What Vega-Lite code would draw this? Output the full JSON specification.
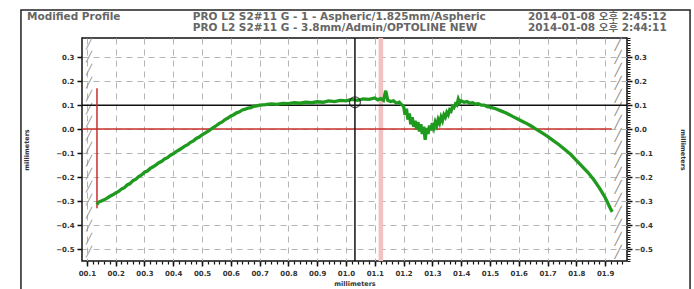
{
"$schema": "https://vega.github.io/schema/vega-lite/v6.json",
"width": 545, "height": 223,
"autosize": {"type": "none"},
"padding": {"left": 82, "top": 38, "right": 67, "bottom": 28},
"background": "white",
"config": {
  "view": {"stroke": "#111", "strokeWidth": 1.5},
  "axis": {"domain": false, "labelFont": "DejaVu Sans", "labelFontWeight": "bold", "labelFontSize": 7, "labelColor": "#333", "tickColor": "#111", "titleFont": "DejaVu Sans", "titleFontWeight": "bold", "titleFontSize": 6.5, "titleColor": "#333", "gridColor": "#b5b5b5", "gridDash": [6, 5], "gridWidth": 1}
},
"data": {"values": [{}]},
"datasets": {
  "profile": [
    {"x":0.135,"y":-0.315},{"x":0.14,"y":-0.305},{"x":0.15,"y":-0.3},{"x":0.16,"y":-0.295},{"x":0.17,"y":-0.288},{"x":0.18,"y":-0.28},{"x":0.19,"y":-0.274},{"x":0.2,"y":-0.266},{"x":0.21,"y":-0.26},{"x":0.22,"y":-0.25},{"x":0.23,"y":-0.244},{"x":0.24,"y":-0.233},{"x":0.25,"y":-0.227},{"x":0.26,"y":-0.215},{"x":0.27,"y":-0.209},{"x":0.28,"y":-0.198},{"x":0.29,"y":-0.191},{"x":0.3,"y":-0.18},{"x":0.31,"y":-0.175},{"x":0.32,"y":-0.164},{"x":0.33,"y":-0.157},{"x":0.34,"y":-0.149},{"x":0.35,"y":-0.14},{"x":0.36,"y":-0.134},{"x":0.37,"y":-0.124},{"x":0.38,"y":-0.119},{"x":0.39,"y":-0.109},{"x":0.4,"y":-0.103},{"x":0.41,"y":-0.094},{"x":0.42,"y":-0.087},{"x":0.43,"y":-0.079},{"x":0.44,"y":-0.071},{"x":0.45,"y":-0.065},{"x":0.46,"y":-0.055},{"x":0.47,"y":-0.049},{"x":0.48,"y":-0.039},{"x":0.49,"y":-0.033},{"x":0.5,"y":-0.024},{"x":0.51,"y":-0.017},{"x":0.52,"y":-0.009},{"x":0.53,"y":-0.001},{"x":0.54,"y":0.007},{"x":0.55,"y":0.015},{"x":0.56,"y":0.024},{"x":0.57,"y":0.03},{"x":0.58,"y":0.04},{"x":0.59,"y":0.046},{"x":0.6,"y":0.055},{"x":0.61,"y":0.06},{"x":0.62,"y":0.068},{"x":0.63,"y":0.072},{"x":0.64,"y":0.08},{"x":0.65,"y":0.083},{"x":0.66,"y":0.088},{"x":0.67,"y":0.09},{"x":0.68,"y":0.095},{"x":0.69,"y":0.097},{"x":0.7,"y":0.1},{"x":0.72,"y":0.102},{"x":0.74,"y":0.105},{"x":0.76,"y":0.103},{"x":0.78,"y":0.107},{"x":0.8,"y":0.106},{"x":0.82,"y":0.11},{"x":0.84,"y":0.108},{"x":0.86,"y":0.112},{"x":0.88,"y":0.11},{"x":0.9,"y":0.114},{"x":0.92,"y":0.112},{"x":0.94,"y":0.118},{"x":0.96,"y":0.115},{"x":0.98,"y":0.12},{"x":1.0,"y":0.118},{"x":1.02,"y":0.124},{"x":1.04,"y":0.12},{"x":1.06,"y":0.126},{"x":1.08,"y":0.124},{"x":1.1,"y":0.13},{"x":1.11,"y":0.122},{"x":1.12,"y":0.127},{"x":1.13,"y":0.12},{"x":1.138,"y":0.16},{"x":1.145,"y":0.12},{"x":1.155,"y":0.115},{"x":1.165,"y":0.118},{"x":1.175,"y":0.108},{"x":1.185,"y":0.112},
    {"x":1.19,"y":0.105},{"x":1.2,"y":0.095},{"x":1.205,"y":0.06},{"x":1.21,"y":0.085},{"x":1.215,"y":0.04},{"x":1.22,"y":0.065},{"x":1.225,"y":0.02},{"x":1.23,"y":0.05},{"x":1.235,"y":0.01},{"x":1.24,"y":0.035},{"x":1.245,"y":0.0},{"x":1.25,"y":0.03},{"x":1.255,"y":-0.01},{"x":1.26,"y":0.02},{"x":1.265,"y":-0.02},{"x":1.27,"y":0.01},{"x":1.275,"y":-0.045},{"x":1.28,"y":0.005},{"x":1.285,"y":-0.02},{"x":1.29,"y":0.015},{"x":1.295,"y":-0.005},{"x":1.3,"y":0.025},{"x":1.305,"y":0.005},{"x":1.31,"y":0.03},{"x":1.315,"y":0.015},{"x":1.32,"y":0.04},{"x":1.325,"y":0.025},{"x":1.33,"y":0.05},{"x":1.335,"y":0.035},{"x":1.34,"y":0.06},{"x":1.345,"y":0.05},{"x":1.35,"y":0.07},{"x":1.355,"y":0.06},{"x":1.36,"y":0.08},{"x":1.365,"y":0.075},{"x":1.37,"y":0.095},{"x":1.375,"y":0.09},{"x":1.38,"y":0.105},{"x":1.385,"y":0.1},{"x":1.39,"y":0.125},{"x":1.395,"y":0.11},{"x":1.4,"y":0.118},{"x":1.41,"y":0.112},{"x":1.42,"y":0.115},{"x":1.43,"y":0.108},{"x":1.44,"y":0.11},{"x":1.45,"y":0.104},{"x":1.46,"y":0.106},{"x":1.47,"y":0.1},{"x":1.48,"y":0.1},{"x":1.49,"y":0.094},{"x":1.5,"y":0.092},{"x":1.52,"y":0.085},{"x":1.54,"y":0.075},{"x":1.56,"y":0.065},{"x":1.58,"y":0.052},{"x":1.6,"y":0.04},{"x":1.62,"y":0.028},{"x":1.64,"y":0.015},{"x":1.66,"y":0.0},{"x":1.68,"y":-0.015},{"x":1.7,"y":-0.03},{"x":1.72,"y":-0.048},{"x":1.74,"y":-0.065},{"x":1.76,"y":-0.085},{"x":1.78,"y":-0.105},{"x":1.8,"y":-0.13},{"x":1.82,"y":-0.155},{"x":1.84,"y":-0.18},{"x":1.86,"y":-0.21},{"x":1.88,"y":-0.245},{"x":1.9,"y":-0.285},{"x":1.91,"y":-0.31},{"x":1.92,"y":-0.335},{"x":1.925,"y":-0.345}
  ]
},
"layer": [
  {
    "mark": {"type": "rect", "color": "#f2c2c2"},
    "encoding": {
      "x": {"datum": 1.113, "type": "quantitative", "scale": {"domain": [0.083, 1.976], "nice": false, "zero": false},
            "axis": {"orient": "bottom", "values": [0.1,0.12,0.14,0.16,0.18,0.2,0.22,0.24,0.26,0.28,0.3,0.32,0.34,0.36,0.38,0.4,0.42,0.44,0.46,0.48,0.5,0.52,0.54,0.56,0.58,0.6,0.62,0.64,0.66,0.68,0.7,0.72,0.74,0.76,0.78,0.8,0.82,0.84,0.86,0.88,0.9,0.92,0.94,0.96,0.98,1.0,1.02,1.04,1.06,1.08,1.1,1.12,1.14,1.16,1.18,1.2,1.22,1.24,1.26,1.28,1.3,1.32,1.34,1.36,1.38,1.4,1.42,1.44,1.46,1.48,1.5,1.52,1.54,1.56,1.58,1.6,1.62,1.64,1.66,1.68,1.7,1.72,1.74,1.76,1.78,1.8,1.82,1.84,1.86,1.88,1.9,1.92,1.94,1.96], "labels": false, "grid": false, "tickSize": 3, "tickWidth": 1.2, "title": null}},
      "x2": {"datum": 1.129}
    }
  },
  {
    "mark": {"type": "text", "align": "center", "baseline": "top", "font": "DejaVu Sans", "fontSize": 10, "color": "#8a8a8a", "lineHeight": 13},
    "encoding": {
      "x": {"datum": 0.107, "type": "quantitative", "scale": {"domain": [0.083, 1.976], "nice": false, "zero": false}, "axis": null},
      "y": {"datum": 0.375, "type": "quantitative", "scale": {"domain": [-0.55, 0.38], "nice": false, "zero": false}, "axis": null},
      "text": {"value": ["╱","╱","╱","╱","╱","╱","╱","╱","╱","╱","╱","╱","╱","╱","╱","╱","╱"]}
    }
  },
  {
    "mark": {"type": "text", "align": "center", "baseline": "top", "font": "DejaVu Sans", "fontSize": 12, "color": "#8a8a8a", "lineHeight": 13},
    "encoding": {
      "x": {"datum": 1.945, "type": "quantitative", "scale": {"domain": [0.083, 1.976], "nice": false, "zero": false}, "axis": null},
      "y": {"datum": 0.375, "type": "quantitative", "scale": {"domain": [-0.55, 0.38], "nice": false, "zero": false}, "axis": null},
      "text": {"value": ["╱","╱","╱","╱","╱","╱","╱","╱","╱","╱","╱","╱","╱","╱","╱","╱","╱"]}
    }
  },
  {
    "mark": {"type": "rule", "color": "#111", "strokeWidth": 1.5},
    "encoding": {
      "y": {"datum": 0.1, "type": "quantitative", "scale": {"domain": [-0.55, 0.38], "nice": false, "zero": false},
            "axis": {"orient": "right", "values": [-0.55,-0.54,-0.53,-0.52,-0.51,-0.5,-0.49,-0.48,-0.47,-0.46,-0.45,-0.44,-0.43,-0.42,-0.41,-0.4,-0.39,-0.38,-0.37,-0.36,-0.35,-0.34,-0.33,-0.32,-0.31,-0.3,-0.29,-0.28,-0.27,-0.26,-0.25,-0.24,-0.23,-0.22,-0.21,-0.2,-0.19,-0.18,-0.17,-0.16,-0.15,-0.14,-0.13,-0.12,-0.11,-0.1,-0.09,-0.08,-0.07,-0.06,-0.05,-0.04,-0.03,-0.02,-0.01,0,0.01,0.02,0.03,0.04,0.05,0.06,0.07,0.08,0.09,0.1,0.11,0.12,0.13,0.14,0.15,0.16,0.17,0.18,0.19,0.2,0.21,0.22,0.23,0.24,0.25,0.26,0.27,0.28,0.29,0.3,0.31,0.32,0.33,0.34,0.35,0.36,0.37,0.38], "labels": false, "grid": false, "tickSize": 3, "tickWidth": 1, "title": null}}
    }
  },
  {
    "mark": {"type": "rule", "color": "#c8302c", "strokeWidth": 1.5},
    "encoding": {
      "x": {"datum": 0.083, "type": "quantitative", "scale": {"domain": [0.083, 1.976], "nice": false, "zero": false}, "axis": null},
      "x2": {"datum": 1.923},
      "y": {"datum": 0, "type": "quantitative", "scale": {"domain": [-0.55, 0.38], "nice": false, "zero": false},
            "axis": {"orient": "right", "values": [-0.5,-0.4,-0.3,-0.2,-0.1,0,0.1,0.2,0.3], "format": ".1f", "grid": false, "tickSize": 5, "tickWidth": 1.5, "labelPadding": 2, "title": "millimeters", "titlePadding": 27}}
    }
  },
  {
    "mark": {"type": "rule", "color": "#c8302c", "strokeWidth": 1.5},
    "encoding": {
      "x": {"datum": 0.135, "type": "quantitative", "scale": {"domain": [0.083, 1.976], "nice": false, "zero": false}, "axis": null},
      "y": {"datum": 0.17, "type": "quantitative", "scale": {"domain": [-0.55, 0.38], "nice": false, "zero": false}, "axis": null},
      "y2": {"datum": -0.33}
    }
  },
  {
    "data": {"name": "profile"},
    "mark": {"type": "line", "color": "#1f9a1f", "strokeWidth": 3.3},
    "encoding": {
      "x": {"field": "x", "type": "quantitative", "scale": {"domain": [0.083, 1.976], "nice": false, "zero": false},
            "axis": {"orient": "bottom", "values": [0.1,0.2,0.3,0.4,0.5,0.6,0.7,0.8,0.9,1.0,1.1,1.2,1.3,1.4,1.5,1.6,1.7,1.8,1.9], "format": "04.1f", "grid": true, "tickSize": 5, "tickWidth": 1.5, "labelPadding": 3, "title": "millimeters", "titlePadding": 4}},
      "y": {"field": "y", "type": "quantitative", "scale": {"domain": [-0.55, 0.38], "nice": false, "zero": false},
            "axis": {"orient": "left", "values": [-0.5,-0.4,-0.3,-0.2,-0.1,0,0.1,0.2,0.3], "format": ".1f", "grid": true, "tickSize": 5, "tickWidth": 1.5, "labelPadding": 3, "title": "millimeters", "titlePadding": 26}}
    }
  },
  {
    "mark": {"type": "rule", "color": "#111", "strokeWidth": 1.5},
    "encoding": {
      "x": {"datum": 1.031, "type": "quantitative", "scale": {"domain": [0.083, 1.976], "nice": false, "zero": false}, "axis": null}
    }
  },
  {
    "mark": {"type": "point", "shape": "circle", "filled": false, "stroke": "#111", "strokeWidth": 1.3, "size": 120},
    "encoding": {
      "x": {"datum": 1.031, "type": "quantitative", "scale": {"domain": [0.083, 1.976], "nice": false, "zero": false}, "axis": null},
      "y": {"datum": 0.112, "type": "quantitative", "scale": {"domain": [-0.55, 0.38], "nice": false, "zero": false}, "axis": null}
    }
  },
  {
    "mark": {"type": "text", "align": "left", "baseline": "top", "font": "DejaVu Sans, Noto Sans CJK KR", "fontWeight": "bold", "fontSize": 10.5, "color": "#666", "lineHeight": 10.5},
    "encoding": {
      "x": {"datum": -0.108, "type": "quantitative", "scale": {"domain": [0.083, 1.976], "nice": false, "zero": false}, "axis": null},
      "y": {"datum": 0.488, "type": "quantitative", "scale": {"domain": [-0.55, 0.38], "nice": false, "zero": false}, "axis": null},
      "text": {"value": "Modified Profile"}
    }
  },
  {
    "mark": {"type": "text", "align": "left", "baseline": "top", "font": "DejaVu Sans, Noto Sans CJK KR", "fontWeight": "bold", "fontSize": 10.5, "color": "#666", "lineHeight": 10.5},
    "encoding": {
      "x": {"datum": 0.468, "type": "quantitative", "scale": {"domain": [0.083, 1.976], "nice": false, "zero": false}, "axis": null},
      "y": {"datum": 0.488, "type": "quantitative", "scale": {"domain": [-0.55, 0.38], "nice": false, "zero": false}, "axis": null},
      "text": {"value": ["PRO L2 S2#11 G - 1 - Aspheric/1.825mm/Aspheric", "PRO L2 S2#11 G - 3.8mm/Admin/OPTOLINE NEW"]}
    }
  },
  {
    "mark": {"type": "text", "align": "left", "baseline": "top", "font": "DejaVu Sans, Noto Sans CJK KR", "fontWeight": "bold", "fontSize": 10.5, "color": "#666", "lineHeight": 10.5},
    "encoding": {
      "x": {"datum": 1.632, "type": "quantitative", "scale": {"domain": [0.083, 1.976], "nice": false, "zero": false}, "axis": null},
      "y": {"datum": 0.488, "type": "quantitative", "scale": {"domain": [-0.55, 0.38], "nice": false, "zero": false}, "axis": null},
      "text": {"value": ["2014-01-08 오후 2:45:12", "2014-01-08 오후 2:44:11"]}
    }
  },
  {
    "mark": {"type": "rect", "filled": false, "fill": null, "stroke": "#222", "strokeWidth": 1.5},
    "encoding": {
      "x": {"datum": -0.129, "type": "quantitative", "scale": {"domain": [0.083, 1.976], "nice": false, "zero": false}, "axis": null},
      "x2": {"datum": 2.195},
      "y": {"datum": 0.497, "type": "quantitative", "scale": {"domain": [-0.55, 0.38], "nice": false, "zero": false}, "axis": null},
      "y2": {"datum": -0.75}
    }
  }
],
"resolve": {"axis": {"x": "independent", "y": "independent"}}
}
